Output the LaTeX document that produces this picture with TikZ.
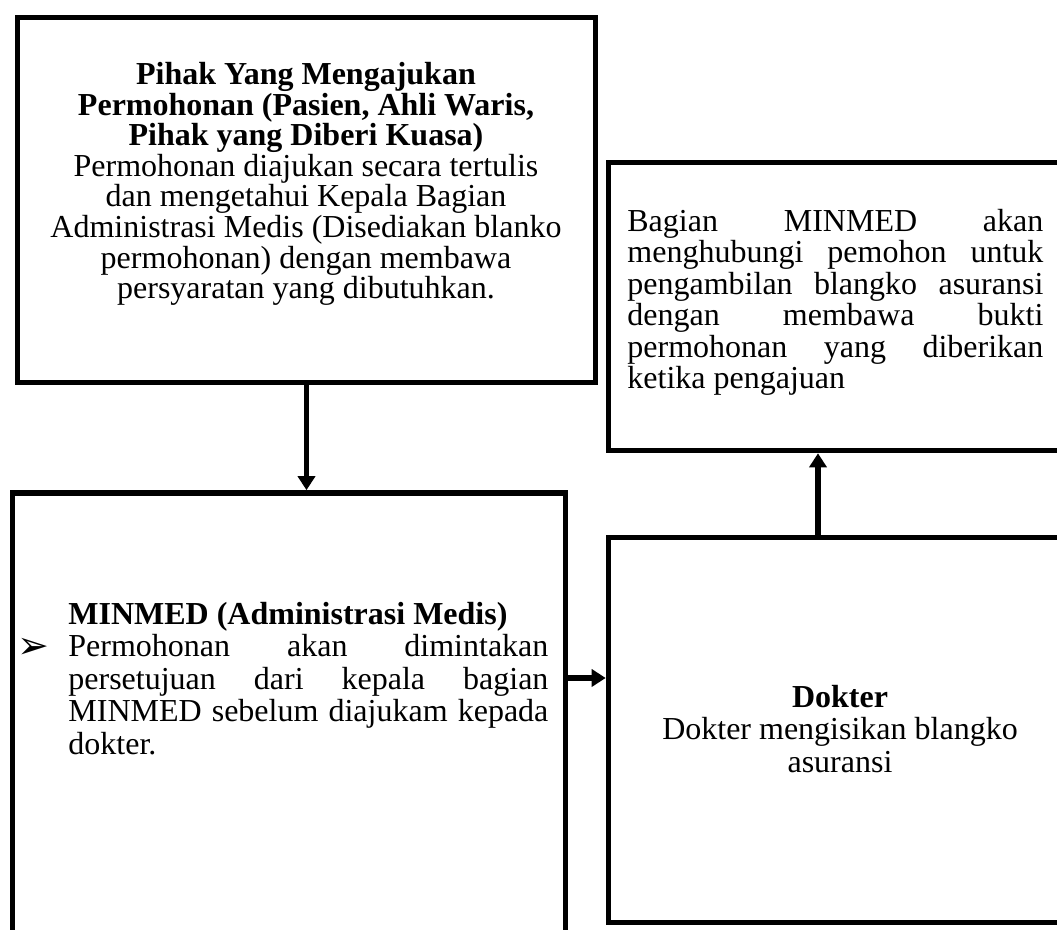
\documentclass[tikz,border=0pt]{standalone}
\usepackage{fontspec}
\setmainfont{Liberation Serif}
\newfontfamily\symfont{DejaVu Sans}
\usetikzlibrary{arrows.meta,positioning,calc}

\begin{document}
\begin{tikzpicture}[x=0.5pt, y=-0.5pt, >={Triangle[width=8.5pt,length=7pt]},
  box/.style={draw, line width=2.8pt, rectangle, inner sep=0pt},
  txt/.style={inner sep=0pt, font=\fontsize{16}{15.7}\selectfont},
  flow/.style={->, line width=2.8pt}]
  \useasboundingbox (0,0) rectangle (1057,930);
  \clip (0,0) rectangle (1057,930);

  % boxes
  \node[box, minimum width=289pt, minimum height=182.5pt] (pihak) at (306.5,200) {};
  \node[box, minimum width=232.5pt, minimum height=144pt] (bagian) at (841,306.5) {};
  \node[box, minimum width=276.5pt, minimum height=228.5pt] (minmed) at (289,721.5) {};
  \node[box, minimum width=232.5pt, minimum height=192.5pt] (dokter) at (841,730) {};

  % texts
  \node[txt, align=center, font=\fontsize{16}{15.3}\selectfont] (pihaktxt) at (306,184)
    {\textbf{Pihak Yang Mengajukan}\\\textbf{Permohonan (Pasien, Ahli Waris,}\\\textbf{Pihak yang Diberi Kuasa)}\\
     Permohonan diajukan secara tertulis\\dan mengetahui Kepala Bagian\\Administrasi Medis (Disediakan blanko\\
     permohonan) dengan membawa\\persyaratan yang dibutuhkan.};
  \node[txt, text width=208pt, align=justify, anchor=north west] (bagiantxt) at (627,209)
    {Bagian MINMED akan\linebreak menghubungi pemohon untuk\linebreak pengambilan blangko asuransi\linebreak
     dengan membawa bukti\linebreak permohonan yang diberikan\linebreak ketika pengajuan};
  \node[txt, font=\symfont\fontsize{19}{19}\selectfont] (bullet) at (33,648) {➢};
  \node[txt, text width=240pt, align=justify, anchor=north west, font=\fontsize{16}{16.2}\selectfont] (minmedtxt) at (68,602)
    {\textbf{MINMED (Administrasi Medis)}\\Permohonan akan dimintakan\linebreak persetujuan dari kepala bagian\linebreak MINMED sebelum diajukam kepada\linebreak dokter.};
  \node[txt, align=center, font=\fontsize{16}{16.2}\selectfont] (doktertxt) at (840,729)
    {\textbf{Dokter}\\Dokter mengisikan blangko\\asuransi};

  % connectors
  \coordinate (k2) at (590,678);
  \coordinate (k3) at (818,495);
  \draw[flow] (pihak.south) -- (pihak.south |- minmed.north);
  \draw[flow] (k2 -| minmed.east) -- (k2 -| dokter.west);
  \draw[flow] (k3 |- dokter.north) -- (k3 |- bagian.south);
\end{tikzpicture}
\end{document}
